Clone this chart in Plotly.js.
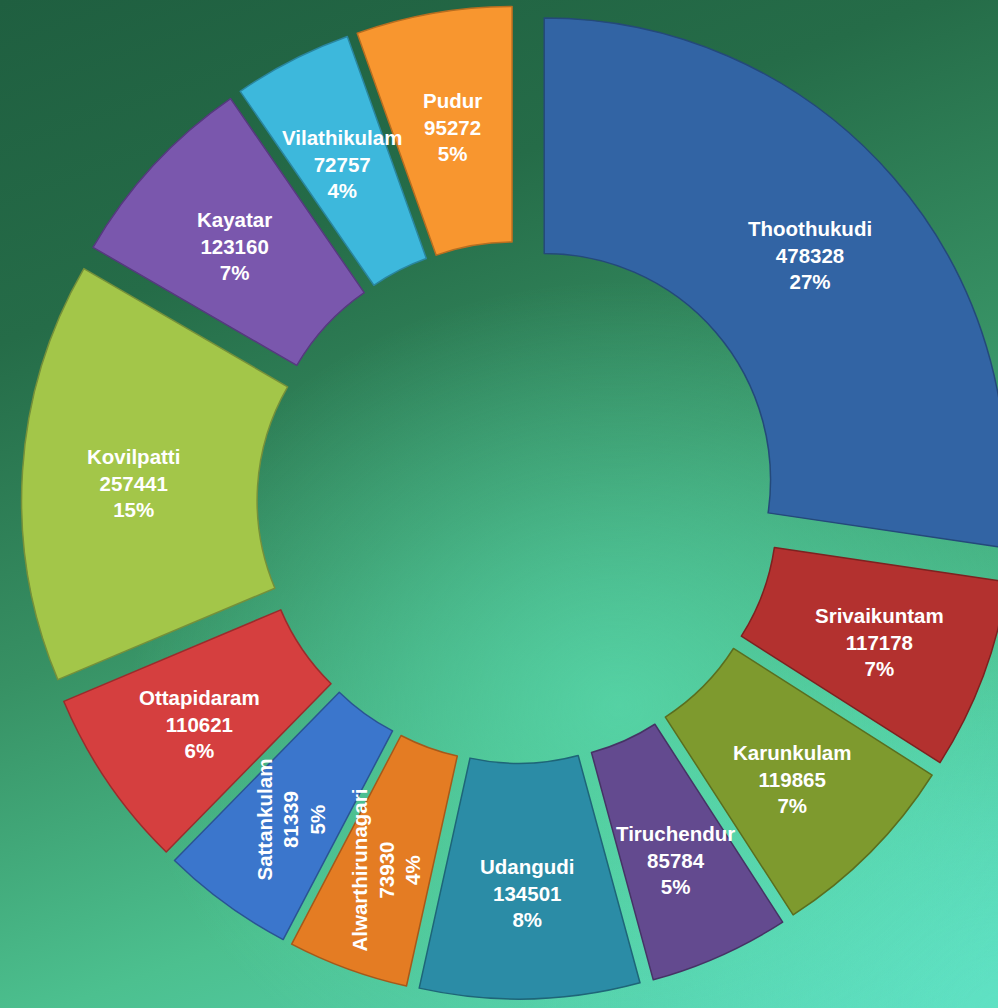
<!DOCTYPE html>
<html>
<head>
<meta charset="utf-8">
<script src="https://cdn.plot.ly/plotly-3.0.1.min.js"></script>
<style>
html, body { margin:0; padding:0; width:998px; height:1008px; overflow:hidden; }
body {
  background:
    radial-gradient(ellipse 70% 60% at 62% 70%, rgba(90,220,175,0.75) 0%, rgba(90,220,175,0) 70%),
    radial-gradient(ellipse 60% 50% at 100% 100%, rgba(95,225,195,1) 0%, rgba(95,225,195,0) 80%),
    linear-gradient(160deg, #1f5f40 0%, #256c48 25%, #379164 50%, #4cc08f 75%, #5ad8bc 100%);
}
#chart { position:absolute; left:0; top:0; }
</style>
</head>
<body>
<div id="chart"></div>
<script>
const categories = ["Thoothukudi","Srivaikuntam","Karunkulam","Tiruchendur","Udangudi","Alwarthirunagari","Sattankulam","Ottapidaram","Kovilpatti","Kayatar","Vilathikulam","Pudur"];
const values = [478328,117178,119865,85784,134501,73930,81339,110621,257441,123160,72757,95272];
const labelAngles = [0,0,0,0,0,-90,-90,0,0,0,0,0];
const colors = ["#3264a4","#b3312f","#7e9a2e","#634a8f","#2b8ca6","#e47c23","#3b76cc","#d53f3f","#a3c649","#7a57ad","#3db8dc","#f8962f"];
const lineColors = ["#24497a","#7e2120","#5a6e1f","#463365","#1e6578","#a5591a","#2a5493","#9b2c2c","#75903a","#56397f","#2a869f","#b86e20"];

const W = 1040, H = 1008;
const M = { l: 0, r: 4, t: 6, b: 9 };
const HOLE = 0.49, PULL = 0.075;

// label positions derived from the data (mid-ring of each pulled slice)
const pw = W - M.l - M.r, ph = H - M.t - M.b;
const R = Math.min(pw, ph) / (2 + 2 * PULL);
const total = values.reduce((a, b) => a + b, 0);
const annotations = [];
let cum = 0;
values.forEach((v, i) => {
  const mid = (cum + v / 2) / total * 2 * Math.PI;
  cum += v;
  const rr = R * (1 + HOLE) / 2 + R * PULL + 7;
  const dx = rr * Math.sin(mid), dy = -rr * Math.cos(mid) + 5;
  const pct = Math.round(v / total * 100);
  annotations.push({
    xref: 'paper', yref: 'paper',
    x: 0.5 + dx / pw, y: 0.5 - dy / ph,
    xanchor: 'center', yanchor: 'middle',
    showarrow: false,
    textangle: labelAngles[i],
    text: '<b>' + categories[i] + '<br>' + v + '<br>' + pct + '%</b>',
    font: { family: 'Liberation Sans, Arial, sans-serif', size: 20.5, color: '#ffffff' },
    align: 'center'
  });
});

Plotly.newPlot('chart', [{
  type: 'pie',
  labels: categories,
  values: values,
  sort: false,
  direction: 'clockwise',
  rotation: 0,
  hole: HOLE,
  pull: PULL,
  marker: { colors: colors, line: { color: lineColors, width: 1.5 } },
  textinfo: 'none',
  showlegend: false,
  hoverinfo: 'none'
}], {
  width: W,
  height: H,
  margin: { l: M.l, r: M.r, t: M.t, b: M.b, pad: 0 },
  paper_bgcolor: 'rgba(0,0,0,0)',
  plot_bgcolor: 'rgba(0,0,0,0)',
  showlegend: false,
  annotations: annotations
}, { displayModeBar: false, staticPlot: true });
</script>
</body>
</html>
